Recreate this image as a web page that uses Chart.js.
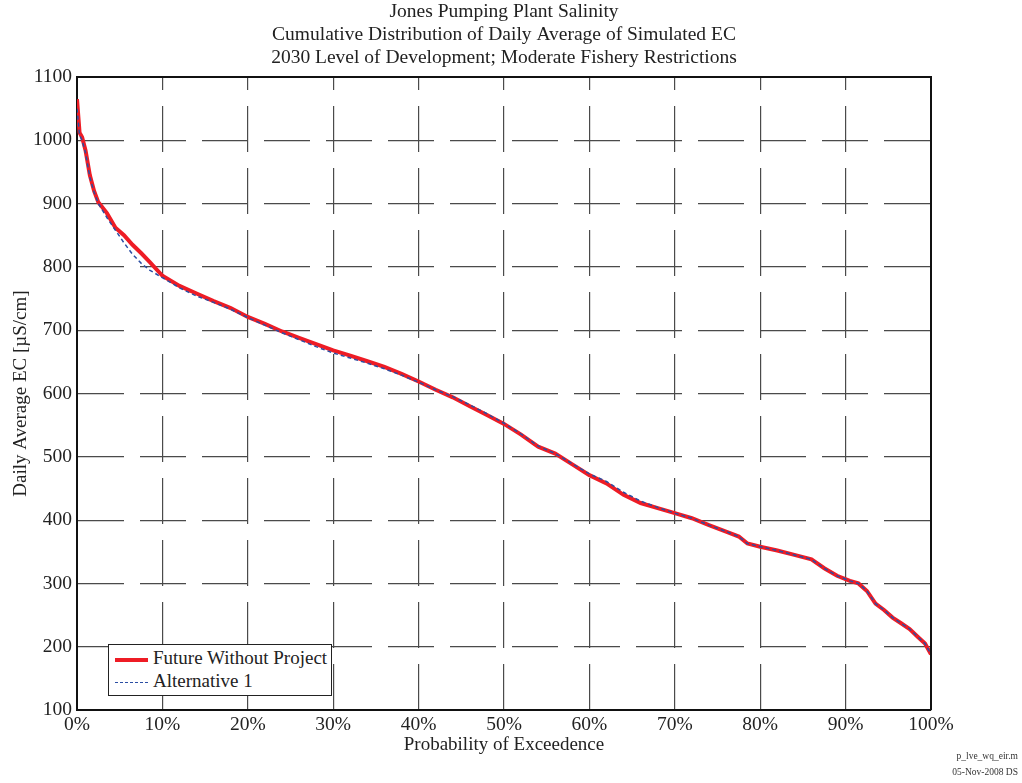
<!DOCTYPE html>
<html>
<head>
<meta charset="utf-8">
<script src="https://cdn.jsdelivr.net/npm/chart.js@4.4.1/dist/chart.umd.min.js"></script>
<style>
  html, body { margin: 0; padding: 0; background: #fff; }
  #wrap { position: relative; width: 1022px; height: 783px; }
  #legendBox {
    position: absolute; left: 108px; top: 644px; width: 222px; height: 50px;
    background: #fff; border: 1.5px solid #222;
    font-family: "Liberation Serif", "Times New Roman", serif; font-size: 19px; color: #222;
  }
  .row { position: absolute; left: 6px; height: 22px; line-height: 22px; white-space: nowrap; }
  .sample { display: inline-block; width: 33px; vertical-align: middle; margin-right: 5px; }
  .stamp {
    position: absolute; right: 4px; font-family: "Liberation Serif", serif;
    font-size: 9.5px; color: #333; white-space: nowrap;
  }
</style>
</head>
<body>
<div id="wrap">
  <canvas id="ecChart" width="1022" height="783"></canvas>
  <div id="legendBox"></div>
  <div class="stamp" style="top:751px">p_lve_wq_eir.m</div>
  <div class="stamp" style="top:767px">05-Nov-2008 DS</div>
</div>
<script>
// probability of exceedence (%)
const probability = [0, 0.3, 0.6, 1, 1.5, 2, 2.5, 3.5, 4.5, 5.5, 6.5, 7.5, 8.5, 10, 12, 14, 16, 18, 20,
  22, 24, 26, 28, 30, 32, 34, 36, 38, 40, 42, 44, 46, 48, 50, 52, 54, 56, 58, 60, 62, 64, 66, 68, 70,
  72, 74, 76, 77.5, 78.5, 80, 82, 84, 86, 87.5, 89, 90.5, 91.5, 92.5, 93.5, 94.5, 95.5, 96.5, 97.5,
  98.5, 99.3, 100];

const futureWithoutProject = [1065, 1012, 1005, 984, 945, 920, 902, 885, 862, 850, 835, 822, 808, 786,
  770, 758, 746, 735, 721, 710, 698, 688, 678, 668, 660, 651, 642, 631, 619, 606, 594, 580, 566, 552,
  535, 516, 505, 488, 471, 458, 440, 427, 419, 411, 403, 392, 382, 374, 363, 358, 352, 345, 338, 324,
  312, 304, 300, 288, 268, 258, 246, 237, 228, 215, 205, 188];

const alternative1 = [1050, 1008, 1000, 980, 942, 918, 900, 878, 858, 838, 820, 806, 795, 783,
  767, 754, 744, 733, 720, 708, 696, 685, 674, 664, 656, 648, 639, 629, 618, 606, 595, 582, 568, 553,
  536, 517, 505, 489, 473, 461, 444, 430, 420, 411, 403, 392, 382, 374, 363, 358, 352, 345, 338, 324,
  312, 304, 300, 288, 268, 258, 246, 237, 228, 215, 205, 188];

const seriesNames = ['Future Without Project', 'Alternative 1'];
const titleLines = ['Jones Pumping Plant Salinity',
  'Cumulative Distribution of Daily Average of Simulated EC',
  '2030 Level of Development; Moderate Fishery Restrictions'];

const serif = '"Liberation Serif", "Times New Roman", serif';

// top + right edges of the axes box
const boxFrame = {
  id: 'boxFrame',
  afterDraw(chart) {
    const a = chart.chartArea, c = chart.ctx;
    c.save();
    c.strokeStyle = '#111';
    c.lineWidth = 2;
    c.beginPath();
    c.moveTo(a.left, a.top); c.lineTo(a.right, a.top); c.lineTo(a.right, a.bottom);
    c.stroke();
    c.restore();
  }
};

const ctx = document.getElementById('ecChart');
const ecChart = new Chart(ctx, {
  type: 'line',
  data: {
    datasets: [{
      label: seriesNames[0],
      data: probability.map((p, i) => ({ x: p, y: futureWithoutProject[i] })),
      borderColor: '#ee1c25',
      borderWidth: 4,
      pointRadius: 0,
      tension: 0,
      order: 1
    }, {
      label: seriesNames[1],
      data: probability.map((p, i) => ({ x: p, y: alternative1[i] })),
      borderColor: '#2b4ea3',
      borderWidth: 1.5,
      borderDash: [4, 3],
      pointRadius: 0,
      tension: 0,
      order: 0
    }]
  },
  options: {
    responsive: false,
    animation: false,
    layout: { padding: { left: 0, right: 91, top: 0, bottom: 0 } },
    plugins: {
      legend: { display: false },
      tooltip: { enabled: false },
      title: {
        display: true,
        fullSize: false,   // center over the plot area like the original
        text: titleLines,
        color: '#222',
        font: { family: serif, size: 19.5, weight: 'normal', lineHeight: 1.18 },
        padding: { top: 0, bottom: 8 }
      }
    },
    scales: {
      x: {
        type: 'linear',
        min: 0, max: 100,
        afterFit: (s) => { s.height = 73; },
        ticks: {
          stepSize: 10,
          color: '#222',
          padding: 3,
          font: { family: serif, size: 19.5 },
          callback: (v) => v + '%',
          maxRotation: 0
        },
        grid: { color: '#4a4a4a', lineWidth: 1.2, drawTicks: false },
        border: { color: '#111', width: 2, dash: [46, 16], dashOffset: 33 },
        title: {
          display: true,
          text: 'Probability of Exceedence',
          color: '#222',
          font: { family: serif, size: 19 },
          padding: { top: 0, bottom: 27 }
        }
      },
      y: {
        min: 100, max: 1100,
        afterFit: (s) => { s.width = 77; },
        ticks: {
          stepSize: 100,
          color: '#222',
          padding: 5,
          font: { family: serif, size: 19.5 },
          callback: (v) => String(v)
        },
        grid: { color: '#4a4a4a', lineWidth: 1.2, drawTicks: false },
        border: { color: '#111', width: 2, dash: [46, 16], dashOffset: 0 },
        title: {
          display: true,
          text: 'Daily Average EC [µS/cm]',
          color: '#222',
          font: { family: serif, size: 19 },
          padding: { top: 10, bottom: 0 }
        }
      }
    }
  },
  plugins: [boxFrame]
});

// legend box inside the axes, built from the dataset labels
const legendBox = document.getElementById('legendBox');
ecChart.data.datasets.forEach((ds, i) => {
  const row = document.createElement('div');
  row.className = 'row';
  row.style.top = (2 + i * 23) + 'px';
  const sample = document.createElement('span');
  sample.className = 'sample';
  sample.style.borderTop = ds.borderDash
    ? ds.borderWidth + 'px dashed ' + ds.borderColor
    : ds.borderWidth + 'px solid ' + ds.borderColor;
  row.appendChild(sample);
  row.appendChild(document.createTextNode(ds.label));
  legendBox.appendChild(row);
});
</script>
</body>
</html>
